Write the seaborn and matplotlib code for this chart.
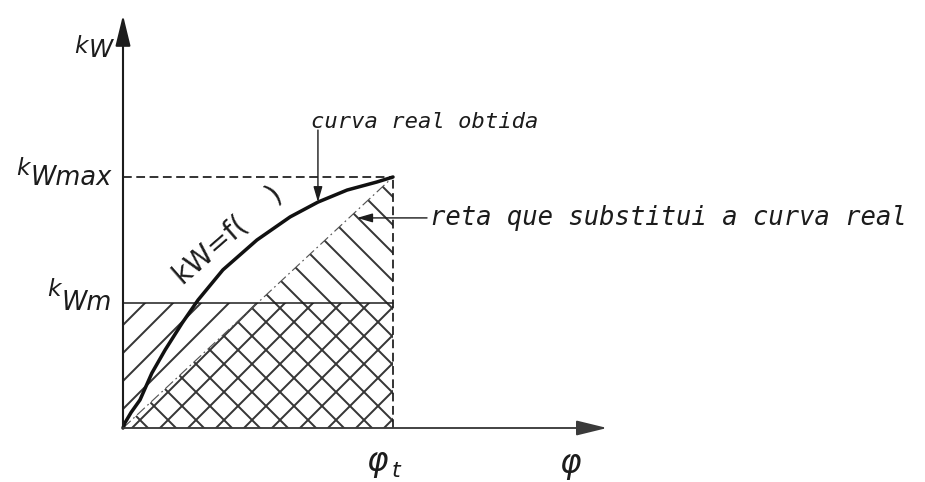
import matplotlib
matplotlib.use("Agg")
import matplotlib.pyplot as plt
import seaborn as sns

# k_W = f(phi), normalised so that phi_t = 1 and k_Wmax = 1
phi_curve = [0.0, 0.007, 0.03, 0.063, 0.107, 0.156, 0.219, 0.278, 0.37, 0.496, 0.619, 0.722, 0.83, 0.94, 1.0]
kw_curve = [0.0, 0.02, 0.062, 0.112, 0.219, 0.311, 0.418, 0.51, 0.63, 0.749, 0.841, 0.90, 0.948, 0.98, 1.0]

phi_t = 1.0
kw_max = 1.0
kw_m = 0.5

# straight line that replaces the real curve
phi_line = [0.0, phi_t]
kw_line = [0.0, kw_max]

# extent of the drawn axes
phi_axis_end = 1.793
kw_axis_end = 1.645

# text
y_labels = ["max", "m"]
curve_label = "curva real obtida"
line_label = "reta que substitui a curva real"
func_label = "kW=f(    )"

sns.set_theme(style="white")
plt.rcParams["font.family"] = ["DejaVu Sans"]
plt.rcParams["hatch.linewidth"] = 1.7

DPI = 84
fig = plt.figure(figsize=(925 / DPI, 482 / DPI), dpi=DPI)
fig.patch.set_facecolor("white")
ax = fig.add_axes([0, 0, 1, 1])
ax.set_xlim(-123 / 270, 802 / 270)
ax.set_ylim(-54 / 251, 428 / 251)
ax.set_axis_off()

ink = "#1c1c1c"
hatch_c = "#363636"

# hatched areas: rectangle under k_Wm and triangle under the straight line
ax.fill_between(phi_line, 0, kw_m, facecolor="none", edgecolor=hatch_c,
                hatch="/", linewidth=0)
ax.fill([phi_line[0], phi_line[1], phi_line[1]], [kw_line[0], kw_line[0], kw_line[1]],
        facecolor="none", edgecolor=hatch_c, hatch="\\", linewidth=0)

# straight line (dash-dot)
ax.plot(phi_line, kw_line, color="#555555", lw=1.0, ls=(0, (9, 3, 1.5, 3)))

# guide lines
ax.plot([0, phi_t], [kw_m, kw_m], color=ink, lw=1.3)
ax.plot([0, phi_t], [kw_max, kw_max], color=ink, lw=1.5, ls=(0, (5, 2.6)))
ax.plot([phi_t, phi_t], [0, kw_max], color=ink, lw=1.5, ls=(0, (5, 2.6)))

# real curve
sns.lineplot(x=phi_curve, y=kw_curve, sort=False, estimator=None, color="#111111",
             linewidth=3.0, ax=ax, solid_capstyle="round", solid_joinstyle="round")

# axes with arrow heads
ax.annotate("", xy=(0, kw_axis_end), xytext=(0, 0),
            arrowprops=dict(arrowstyle="-|>,head_length=0.9,head_width=0.22",
                            mutation_scale=25, lw=1.8, color=ink, shrinkA=0, shrinkB=0))
ax.annotate("", xy=(phi_axis_end, 0), xytext=(0, 0),
            arrowprops=dict(arrowstyle="-|>,head_length=0.9,head_width=0.22",
                            mutation_scale=25, lw=1.6, color="#3a3a3a", shrinkA=0, shrinkB=0))

font = dict(family="DejaVu Sans", style="oblique", color=ink)
mono = dict(family="DejaVu Sans Mono", style="oblique", color=ink)


def k_label(x, y_w, y_k, sub, size, k_size):
    w = ax.text(x, y_w, "W" + sub, ha="right", va="baseline", fontsize=size, **font)
    ax.annotate("k", xy=(0, y_k), xycoords=(w, "data"), xytext=(-1, 0),
                textcoords="offset points", ha="right", va="baseline",
                fontsize=k_size, **font)


k_label(-0.037, 1.478, 1.494, "", 21, 20)
k_label(-0.041, kw_max - 0.032, kw_max + 0.008, y_labels[0], 22, 20)
k_label(-0.041, kw_m - 0.03, kw_m + 0.024, y_labels[1], 22, 20)

# phi labels
ax.text(0.94, -0.172, "\u03c6", ha="center", va="baseline", fontsize=28, **font)
ax.text(0.995, -0.195, "t", ha="left", va="baseline", fontsize=19, **font)
ax.text(1.656, -0.18, "\u03c6", ha="center", va="baseline", fontsize=28, **font)

# k_W = f(phi) written along the curve
ax.text(0.222, 0.57, func_label, rotation=41, rotation_mode="anchor",
        ha="left", va="baseline", fontsize=24, family="DejaVu Sans", color=ink)

# callouts
ax.annotate("", xy=(phi_curve[11], kw_curve[11]), xytext=(phi_curve[11], 1.187),
            arrowprops=dict(arrowstyle="-|>,head_length=0.55,head_width=0.16",
                            mutation_scale=20, lw=1.2, color=ink, shrinkA=0, shrinkB=0))
ax.text(phi_curve[11] - 0.026, 1.195, curve_label, ha="left", va="baseline",
        fontsize=19, **mono)

ax.annotate("", xy=(0.867, 0.837), xytext=(1.126, 0.837),
            arrowprops=dict(arrowstyle="-|>,head_length=0.55,head_width=0.16",
                            mutation_scale=20, lw=1.2, color=ink, shrinkA=0, shrinkB=0))
ax.text(1.137, 0.808, line_label, ha="left", va="baseline", fontsize=22, **mono)

fig.savefig("out.png", dpi=DPI, facecolor="white")
